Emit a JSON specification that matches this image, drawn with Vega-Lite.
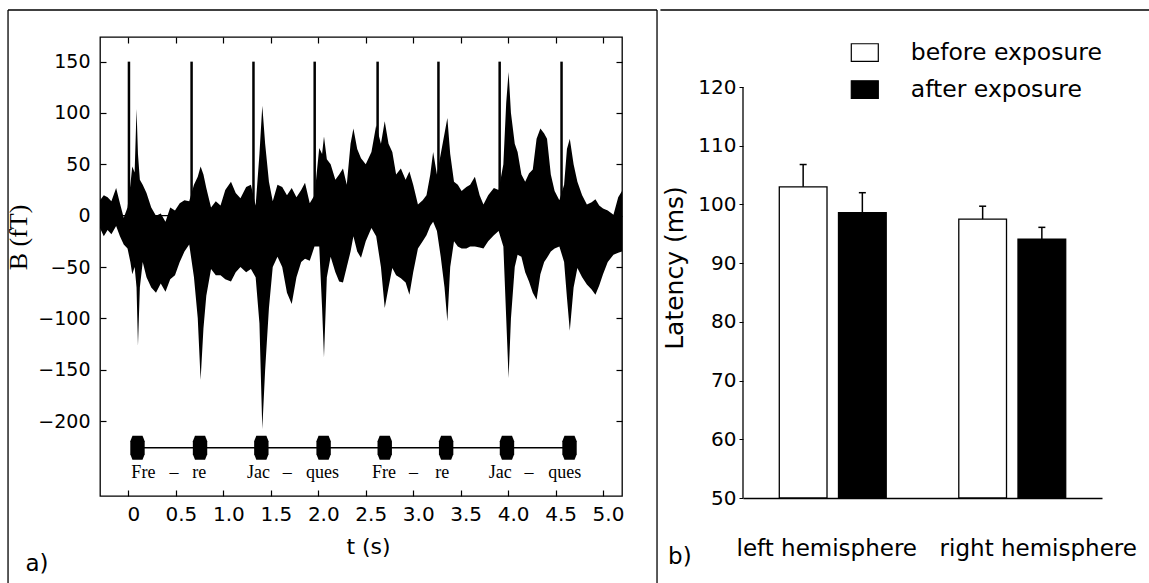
{
  "$schema": "https://vega.github.io/schema/vega-lite/v6.json",
  "padding": {"left": 5, "top": 8, "right": 0, "bottom": 0},
  "background": "white",
  "spacing": 0,
  "resolve": {"scale": {"fill": "independent"}, "legend": {"fill": "independent"}},
  "config": {
    "font": "DejaVu Sans",
    "axis": {"labelColor": "black", "titleColor": "black", "domainColor": "black", "tickColor": "black", "grid": false, "titleFontWeight": "normal", "labelFont": "DejaVu Sans", "labelLimit": 400},
    "legend": {"labelColor": "black", "labelLimit": 400},
    "text": {"color": "black"}
  },
  "datasets": {
    "env": [
      {"t": -0.30, "hi": 15, "lo": -12}, {"t": -0.26, "hi": 20, "lo": -20}, {"t": -0.22, "hi": 18, "lo": -14}, {"t": -0.18, "hi": 14, "lo": -18},
      {"t": -0.13, "hi": 27, "lo": -10}, {"t": -0.09, "hi": 12, "lo": -20}, {"t": -0.05, "hi": -2, "lo": -28}, {"t": -0.01, "hi": 8, "lo": -32},
      {"t": 0.02, "hi": 30, "lo": -45}, {"t": 0.04, "hi": 48, "lo": -57}, {"t": 0.065, "hi": 42, "lo": -50}, {"t": 0.085, "hi": 104, "lo": -70},
      {"t": 0.10, "hi": 60, "lo": -127}, {"t": 0.12, "hi": 35, "lo": -70}, {"t": 0.15, "hi": 30, "lo": -45}, {"t": 0.19, "hi": 22, "lo": -60},
      {"t": 0.24, "hi": 8, "lo": -70}, {"t": 0.29, "hi": 0, "lo": -75}, {"t": 0.34, "hi": 2, "lo": -66}, {"t": 0.39, "hi": -6, "lo": -74},
      {"t": 0.44, "hi": 8, "lo": -62}, {"t": 0.49, "hi": 5, "lo": -58}, {"t": 0.54, "hi": 12, "lo": -45}, {"t": 0.59, "hi": 15, "lo": -35},
      {"t": 0.64, "hi": 14, "lo": -28}, {"t": 0.69, "hi": 30, "lo": -60}, {"t": 0.73, "hi": 38, "lo": -100}, {"t": 0.76, "hi": 48, "lo": -160},
      {"t": 0.79, "hi": 40, "lo": -110}, {"t": 0.82, "hi": 27, "lo": -78}, {"t": 0.87, "hi": 8, "lo": -52}, {"t": 0.92, "hi": 14, "lo": -58},
      {"t": 0.97, "hi": 10, "lo": -58}, {"t": 1.02, "hi": 25, "lo": -62}, {"t": 1.08, "hi": 33, "lo": -64}, {"t": 1.13, "hi": 22, "lo": -55},
      {"t": 1.18, "hi": 17, "lo": -50}, {"t": 1.24, "hi": 28, "lo": -55}, {"t": 1.29, "hi": 30, "lo": -52}, {"t": 1.34, "hi": 10, "lo": -60},
      {"t": 1.38, "hi": 60, "lo": -105}, {"t": 1.41, "hi": 107, "lo": -208}, {"t": 1.44, "hi": 70, "lo": -150}, {"t": 1.48, "hi": 33, "lo": -90},
      {"t": 1.52, "hi": 14, "lo": -50}, {"t": 1.57, "hi": 30, "lo": -40}, {"t": 1.62, "hi": 28, "lo": -50}, {"t": 1.67, "hi": 20, "lo": -75},
      {"t": 1.72, "hi": 27, "lo": -86}, {"t": 1.77, "hi": 18, "lo": -60}, {"t": 1.82, "hi": 25, "lo": -45}, {"t": 1.86, "hi": 32, "lo": -42},
      {"t": 1.91, "hi": 12, "lo": -44}, {"t": 1.96, "hi": 20, "lo": -30}, {"t": 2.01, "hi": 66, "lo": -30}, {"t": 2.04, "hi": 60, "lo": -90},
      {"t": 2.06, "hi": 77, "lo": -138}, {"t": 2.09, "hi": 55, "lo": -60}, {"t": 2.13, "hi": 50, "lo": -40}, {"t": 2.18, "hi": 35, "lo": -55},
      {"t": 2.22, "hi": 40, "lo": -64}, {"t": 2.26, "hi": 46, "lo": -65}, {"t": 2.30, "hi": 30, "lo": -50}, {"t": 2.34, "hi": 70, "lo": -35},
      {"t": 2.37, "hi": 85, "lo": -20}, {"t": 2.41, "hi": 65, "lo": -35}, {"t": 2.45, "hi": 56, "lo": -41}, {"t": 2.50, "hi": 50, "lo": -25},
      {"t": 2.56, "hi": 62, "lo": -12}, {"t": 2.61, "hi": 88, "lo": -20}, {"t": 2.66, "hi": 70, "lo": -50}, {"t": 2.70, "hi": 92, "lo": -90},
      {"t": 2.74, "hi": 70, "lo": -70}, {"t": 2.78, "hi": 62, "lo": -51}, {"t": 2.82, "hi": 40, "lo": -58}, {"t": 2.87, "hi": 46, "lo": -61},
      {"t": 2.92, "hi": 35, "lo": -65}, {"t": 2.96, "hi": 43, "lo": -77}, {"t": 3.00, "hi": 30, "lo": -55}, {"t": 3.05, "hi": 11, "lo": -32},
      {"t": 3.10, "hi": 15, "lo": -25}, {"t": 3.14, "hi": 20, "lo": -19}, {"t": 3.18, "hi": 40, "lo": -10}, {"t": 3.21, "hi": 62, "lo": -6},
      {"t": 3.25, "hi": 40, "lo": -15}, {"t": 3.29, "hi": 60, "lo": -40}, {"t": 3.33, "hi": 80, "lo": -70}, {"t": 3.36, "hi": 95, "lo": -103},
      {"t": 3.39, "hi": 60, "lo": -50}, {"t": 3.43, "hi": 33, "lo": -25}, {"t": 3.47, "hi": 30, "lo": -30}, {"t": 3.51, "hi": 24, "lo": -32},
      {"t": 3.56, "hi": 28, "lo": -32}, {"t": 3.60, "hi": 30, "lo": -30}, {"t": 3.65, "hi": 38, "lo": -30}, {"t": 3.70, "hi": 20, "lo": -31},
      {"t": 3.74, "hi": 11, "lo": -32}, {"t": 3.79, "hi": 20, "lo": -25}, {"t": 3.85, "hi": 27, "lo": -19}, {"t": 3.90, "hi": 25, "lo": -15},
      {"t": 3.95, "hi": 50, "lo": -30}, {"t": 3.98, "hi": 110, "lo": -100}, {"t": 4.005, "hi": 140, "lo": -158}, {"t": 4.03, "hi": 100, "lo": -100},
      {"t": 4.07, "hi": 70, "lo": -50}, {"t": 4.10, "hi": 62, "lo": -38}, {"t": 4.14, "hi": 40, "lo": -40}, {"t": 4.18, "hi": 33, "lo": -55},
      {"t": 4.22, "hi": 41, "lo": -64}, {"t": 4.26, "hi": 45, "lo": -75}, {"t": 4.30, "hi": 75, "lo": -82}, {"t": 4.34, "hi": 85, "lo": -57},
      {"t": 4.38, "hi": 80, "lo": -45}, {"t": 4.41, "hi": 75, "lo": -41}, {"t": 4.45, "hi": 40, "lo": -35}, {"t": 4.49, "hi": 24, "lo": -32},
      {"t": 4.54, "hi": 15, "lo": -30}, {"t": 4.59, "hi": 30, "lo": -45}, {"t": 4.62, "hi": 65, "lo": -80}, {"t": 4.65, "hi": 75, "lo": -112},
      {"t": 4.69, "hi": 50, "lo": -70}, {"t": 4.73, "hi": 33, "lo": -51}, {"t": 4.78, "hi": 20, "lo": -60}, {"t": 4.83, "hi": 11, "lo": -67},
      {"t": 4.88, "hi": 13, "lo": -72}, {"t": 4.92, "hi": 16, "lo": -77}, {"t": 4.96, "hi": 10, "lo": -68}, {"t": 5.00, "hi": 7, "lo": -57},
      {"t": 5.05, "hi": 5, "lo": -45}, {"t": 5.11, "hi": 1, "lo": -38}, {"t": 5.16, "hi": 18, "lo": -36}, {"t": 5.20, "hi": 24, "lo": -35}
    ],
    "triggers": [{"t": 0.005}, {"t": 0.665}, {"t": 1.317}, {"t": 1.962}, {"t": 2.625}, {"t": 3.266}, {"t": 3.911}, {"t": 4.563}],
    "notes": [{"t": 0.095}, {"t": 0.754}, {"t": 1.40}, {"t": 2.056}, {"t": 2.70}, {"t": 3.347}, {"t": 3.988}, {"t": 4.647}],
    "syll": [
      {"t": 0.157, "s": "Fre"}, {"t": 0.48, "s": "–"}, {"t": 0.746, "s": "re"}, {"t": 1.369, "s": "Jac"}, {"t": 1.673, "s": "–"}, {"t": 2.045, "s": "ques"},
      {"t": 2.693, "s": "Fre"}, {"t": 3.002, "s": "–"}, {"t": 3.305, "s": "re"}, {"t": 3.918, "s": "Jac"}, {"t": 4.221, "s": "–"}, {"t": 4.596, "s": "ques"}
    ],
    "lat": [
      {"hemi": "left hemisphere", "cond": "before exposure", "lat": 103.0, "hi": 106.8},
      {"hemi": "left hemisphere", "cond": "after exposure", "lat": 98.6, "hi": 102.0},
      {"hemi": "right hemisphere", "cond": "before exposure", "lat": 97.5, "hi": 99.7},
      {"hemi": "right hemisphere", "cond": "after exposure", "lat": 94.1, "hi": 96.1}
    ],
    "one": [{}]
  },
  "hconcat": [
    {
      "width": 522,
      "height": 459,
      "view": {"stroke": "black", "strokeWidth": 1.3},
      "resolve": {"axis": {"x": "independent", "y": "independent"}},
      "layer": [
        {
          "data": {"name": "env"},
          "mark": {"type": "area", "color": "black", "opacity": 1},
          "encoding": {
            "x": {"field": "t", "type": "quantitative", "scale": {"domain": [-0.3, 5.2], "nice": false, "zero": false},
              "axis": {"orient": "bottom", "values": [0, 0.5, 1, 1.5, 2, 2.5, 3, 3.5, 4, 4.5, 5], "labelExpr": "datum.value === 0 ? '0' : format(datum.value, '.1f')",
                "tickSize": -6, "tickWidth": 1.2, "labelFontSize": 20, "labelPadding": 14, "labelOffset": 5, "labelFlush": false, "labelOverlap": false,
                "title": "t (s)", "titleFontSize": 22, "titlePadding": 12, "titleX": 268, "domain": false}},
            "y": {"field": "hi", "type": "quantitative", "scale": {"domain": [-273, 174], "nice": false, "zero": false},
              "axis": {"orient": "left", "values": [-200, -150, -100, -50, 0, 50, 100, 150], "tickSize": -6, "tickWidth": 1.2, "labelFontSize": 19, "labelPadding": 16,
                "labelOverlap": false, "title": "B (fT)", "titleFont": "Liberation Serif", "titleFontSize": 26, "titlePadding": 6, "titleY": 200, "domain": false}},
            "y2": {"field": "lo"}
          }
        },
        {
          "data": {"name": "one"},
          "mark": {"type": "rule", "color": "black", "strokeWidth": 1.2},
          "encoding": {"y": {"datum": 0, "axis": null}}
        },
        {
          "data": {"name": "triggers"},
          "mark": {"type": "rule", "color": "black", "strokeWidth": 2.5},
          "encoding": {
            "x": {"field": "t", "type": "quantitative", "axis": {"orient": "top", "values": [0, 0.5, 1, 1.5, 2, 2.5, 3, 3.5, 4, 4.5, 5], "tickSize": -6, "tickWidth": 1.2, "labels": false, "title": null, "domain": false}},
            "y": {"datum": 0, "axis": {"orient": "right", "values": [-200, -150, -100, -50, 0, 50, 100, 150], "tickSize": -6, "tickWidth": 1.2, "labels": false, "title": null, "domain": false}},
            "y2": {"datum": 150}
          }
        },
        {
          "data": {"name": "one"},
          "mark": {"type": "rule", "color": "black", "strokeWidth": 1.5},
          "encoding": {"x": {"datum": 0.095, "axis": null}, "x2": {"datum": 4.647}, "y": {"datum": -226, "axis": null}}
        },
        {
          "data": {"name": "notes"},
          "mark": {"type": "point", "filled": true, "color": "black", "opacity": 1, "size": 576, "shape": "M-0.42,-1L0.42,-1L0.6,-0.55L0.6,0.55L0.42,1L-0.42,1L-0.6,0.55L-0.6,-0.55Z"},
          "encoding": {"x": {"field": "t", "type": "quantitative", "axis": null}, "y": {"datum": -226, "axis": null}}
        },
        {
          "data": {"name": "syll"},
          "mark": {"type": "text", "font": "Liberation Serif", "fontSize": 18, "baseline": "middle", "align": "center", "color": "black"},
          "encoding": {"x": {"field": "t", "type": "quantitative", "axis": null}, "y": {"datum": -251, "axis": null}, "text": {"field": "s"}}
        },
        {
          "data": {"name": "one"},
          "mark": {"type": "rule", "color": "black", "strokeWidth": 1.3, "clip": false},
          "encoding": {"x": {"datum": -1.269, "axis": null}, "y": {"datum": 200.3, "axis": null}, "y2": {"datum": -358.7}}
        },
        {
          "data": {"name": "one"},
          "mark": {"type": "rule", "color": "black", "strokeWidth": 1.3, "clip": false},
          "encoding": {"x": {"datum": -1.269, "axis": null}, "x2": {"datum": 5.569}, "y": {"datum": 200.3, "axis": null}}
        },
        {
          "data": {"name": "one"},
          "mark": {"type": "rule", "color": "black", "strokeWidth": 1.3, "clip": false},
          "encoding": {"x": {"datum": 5.569, "axis": null}, "y": {"datum": 200.3, "axis": null}, "y2": {"datum": -358.7}}
        },
        {
          "data": {"name": "one"},
          "mark": {"type": "text", "text": "a)", "fontSize": 23, "align": "center", "baseline": "middle", "clip": false},
          "encoding": {"x": {"datum": -0.964, "axis": null}, "y": {"datum": -339, "axis": null}}
        }
      ]
    },
    {
      "width": 359,
      "height": 461,
      "view": {"stroke": null},
      "data": {"name": "lat"},
      "layer": [
        {
          "mark": {"type": "bar", "stroke": "black", "strokeWidth": 1.3},
          "encoding": {
            "x": {"field": "hemi", "type": "nominal", "scale": {"paddingInner": 0, "paddingOuter": 0},
              "axis": {"title": null, "labelAngle": 0, "ticks": false, "labelFontSize": 23, "labelPadding": 39, "domainWidth": 1.3,
                "labelOffset": {"condition": {"test": "datum.value === 'right hemisphere'", "value": 26}, "value": -6}}},
            "xOffset": {"field": "cond", "type": "nominal", "scale": {"domain": ["before exposure", "after exposure"], "paddingInner": 0.194, "paddingOuter": 0.613}},
            "y": {"field": "lat", "type": "quantitative", "scale": {"domain": [50, 128.52], "nice": false, "zero": false},
              "axis": {"values": [50, 60, 70, 80, 90, 100, 110, 120], "tickSize": 4, "labelFontSize": 20, "labelPadding": 3, "title": "Latency (ms)", "titleFontSize": 25, "titlePadding": 10, "domain": false}},
            "y2": {"datum": 50},
            "fill": {"field": "cond", "type": "nominal", "scale": {"domain": ["before exposure", "after exposure"], "range": ["white", "black"]},
              "legend": {"orient": "none", "legendX": 107.3, "legendY": 1, "title": null, "symbolType": "M-1,-0.65H1V0.65H-1Z", "symbolSize": 729,
                "symbolStrokeColor": "black", "symbolStrokeWidth": 1.2, "labelFontSize": 23.5, "labelOffset": 31.5, "rowPadding": 11, "padding": 0}}
          }
        },
        {
          "mark": {"type": "rule", "color": "black", "strokeWidth": 1.5},
          "encoding": {
            "x": {"field": "hemi", "type": "nominal"},
            "xOffset": {"field": "cond", "type": "nominal"},
            "y": {"field": "lat", "type": "quantitative"},
            "y2": {"field": "hi"}
          }
        },
        {
          "mark": {"type": "tick", "color": "black", "thickness": 1.5, "size": 7, "opacity": 1},
          "encoding": {
            "x": {"field": "hemi", "type": "nominal"},
            "xOffset": {"field": "cond", "type": "nominal"},
            "y": {"field": "hi", "type": "quantitative"}
          }
        },
        {
          "data": {"name": "one"},
          "mark": {"type": "rule", "color": "black", "strokeWidth": 1.3, "clip": false},
          "encoding": {
            "x": {"datum": "left hemisphere", "bandPosition": 0},
            "y": {"datum": 50},
            "y2": {"datum": 120}
          }
        },
        {
          "data": {"name": "one"},
          "mark": {"type": "rule", "color": "black", "strokeWidth": 1.3, "clip": false},
          "encoding": {
            "x": {"datum": "left hemisphere", "bandPosition": -0.46},
            "x2": {"datum": "right hemisphere", "bandPosition": 1.3},
            "y": {"datum": 133.12}
          }
        },
        {
          "data": {"name": "one"},
          "mark": {"type": "text", "text": "b)", "fontSize": 23, "align": "center", "baseline": "middle", "clip": false},
          "encoding": {"x": {"datum": "left hemisphere", "bandPosition": -0.352}, "y": {"datum": 39.9}}
        }
      ]
    }
  ]
}
